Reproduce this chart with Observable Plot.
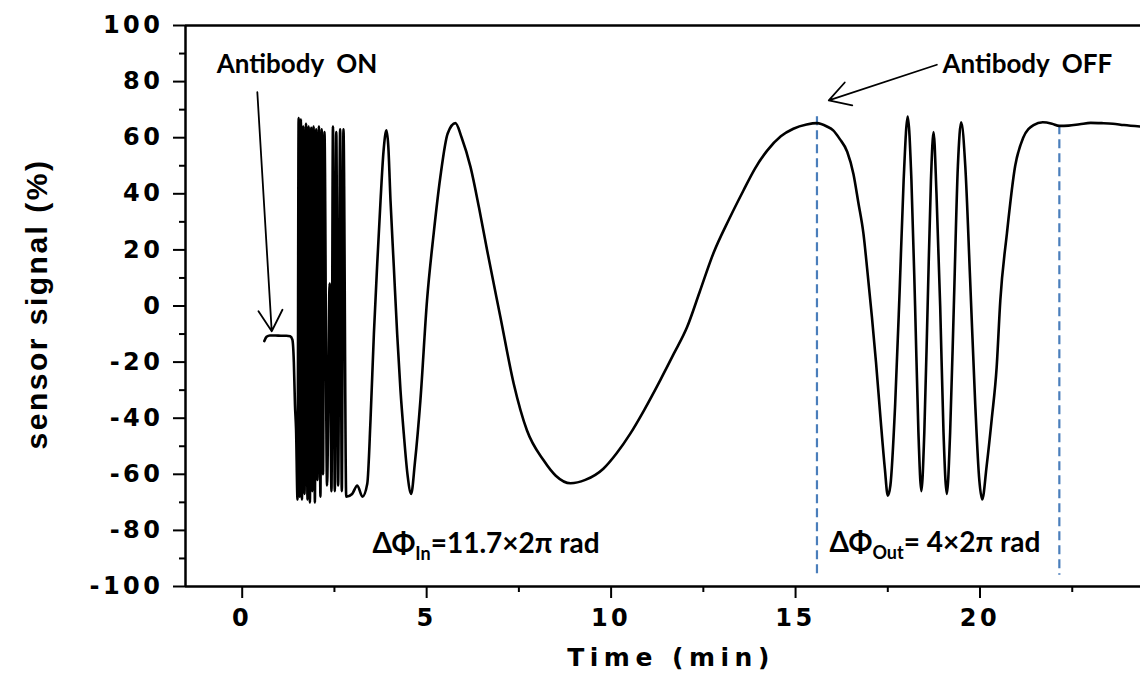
<!DOCTYPE html>
<html><head><meta charset="utf-8">
<script src="https://cdn.jsdelivr.net/npm/d3@7"></script>
<script src="https://cdn.jsdelivr.net/npm/@observablehq/plot@0.6"></script>
<style>
body{margin:0;background:#fff;}
svg text{white-space:pre;}
</style></head><body><div id="chart"></div>
<script>
// ---- data ----
const time = [0.60,0.66,0.75,0.90,1.05,1.20,1.30,1.36,1.40,1.43,1.46,
  1.50,1.53,1.56,1.59,1.62,1.655,1.69,1.73,1.77,1.80,1.835,1.87,1.90,1.935,1.97,2.005,2.04,2.08,2.12,2.155,2.19,2.23,2.30,2.37,2.42,2.46,2.51,2.55,2.60,2.655,2.70,2.745,2.82,
  2.98,3.12,3.26,3.39,3.48,3.57,3.66,3.75,3.83,3.91,
  3.96,4.02,4.11,4.20,4.29,4.38,4.48,4.58,
  4.68,4.83,5.01,5.19,5.37,5.57,5.78,
  5.95,6.19,6.42,6.64,7.00,7.36,7.72,8.17,8.50,8.90,
  9.30,9.79,10.15,10.52,10.90,11.33,11.70,12.06,12.40,12.77,
  13.20,13.58,13.90,14.23,14.60,14.94,15.30,15.58,
  15.85,16.02,16.20,16.40,16.57,16.70,16.84,16.95,17.07,17.18,17.30,17.42,17.50,
  17.57,17.70,17.82,17.93,18.04,
  18.14,18.24,18.33,18.41,
  18.49,18.58,18.67,18.74,
  18.82,18.92,19.01,19.10,
  19.19,19.29,19.40,19.49,
  19.60,19.73,19.87,19.98,20.06,
  20.18,20.32,20.45,20.55,20.73,20.95,21.17,21.45,21.70,21.95,22.15,
  22.40,22.70,23.00,23.30,23.60,23.90,24.35];
const signal = [-12.5,-11.0,-10.5,-10.5,-10.6,-10.6,-10.8,-12,-20,-35,-44,
  -69,67,-68,66.5,-69,64,-67,65,-69,64,-70,63.5,-66,64,-70,63,-62,64,-68,63,-60,62,-64,8,-66,64,-66,62,-64,63,-66,63,-68,
  -67,-64,-68,-63.4,-40,-9.8,15,37.6,55,62.6,
  57,37.6,14,-9.8,-30,-45.5,-60,-67,
  -56,-33.7,2,25.8,45.9,61.5,65.2,
  60,49.5,35,19.8,-4,-27.7,-44.4,-55,-60.5,-63.2,
  -62,-58,-52.5,-45.5,-37,-26.5,-17,-7.5,5,18.7,
  31,41,49,55.4,60.5,63.2,64.7,65.2,
  64,62.6,59.5,55,47,37,25.8,12,-4,-20,-39.6,-58,-67.6,
  -64,-35,5,45,67.5,
  45,0,-45,-66,
  -45,0,45,62,
  40,0,-45,-67,
  -45,0,50,65.5,
  50,10,-35,-62,-69,
  -57,-40,-22,2,26,49.7,60,64.5,65.5,65,64.2,
  64.3,64.8,65.3,65.2,65,64.5,64];

const xDomain = [-1.537, 24.35];
const yDomain = [-100, 100];
const xTicks = [0, 5, 10, 15, 20];
const xMinorTicks = [2.5, 7.5, 12.5, 17.5, 22.5];
const yTicks = [-100, -80, -60, -40, -20, 0, 20, 40, 60, 80, 100];
const yMinorTicks = [-90, -70, -50, -30, -10, 10, 30, 50, 70, 90];

// boundaries of the phase windows (dashed lines)
const windowT = [15.58, 22.15];
const windowTop = [67.5, 64.3];
const windowBottom = [-96, -96];

// annotations
const labelText = ["Antibody  ON", "Antibody  OFF"];
const labelT = [-0.69, 18.98];
const labelV = [86, 86];
const arrowFromT = [0.41, 18.83];
const arrowFromV = [76.2, 86];
const arrowToT = [0.80, 15.90];
const arrowToV = [-9, 73.3];
const phaseSub = ["In", "Out"];
const phaseRest = ["=11.7×2π rad", "= 4×2π rad"];
const phaseT = [3.53, 15.92];
const phaseV = [-85, -84.5];

const yTitle = "sensor signal (%)";
const xTitle = "Time (min)";

// ---- build ----
const data = time.map((t, i) => ({t, v: signal[i]}));
const windows = windowT.map((t, i) => ({t, top: windowTop[i], bottom: windowBottom[i]}));
const labels = labelText.map((s, i) => ({s, t: labelT[i], v: labelV[i]}));
const arrows = arrowFromT.map((t, i) => ({x1: t, y1: arrowFromV[i], x2: arrowToT[i], y2: arrowToV[i]}));
const phaseFull = phaseSub.map((s, i) => "ΔΦ" + s + phaseRest[i]);
const phases = phaseFull.map((s, i) => ({s, t: phaseT[i], v: phaseV[i]}));

const annoFont = "Lato, 'Open Sans', 'DejaVu Sans', sans-serif";
const tickFont = "'DejaVu Sans', sans-serif";

const plot = Plot.plot({
  width: 1140, height: 687,
  marginLeft: 185, marginRight: 0, marginTop: 25, marginBottom: 101,
  x: {domain: xDomain},
  y: {domain: yDomain},
  style: {background: "white", overflow: "visible"},
  marks: [
    Plot.ruleY([yDomain[1]], {stroke: "black", strokeWidth: 2.5}),
    Plot.ruleY([yDomain[0]], {stroke: "black", strokeWidth: 2.5}),
    Plot.ruleX([xDomain[0]], {stroke: "black", strokeWidth: 2.5}),
    Plot.axisY({ticks: yTicks, tickSize: 12, tickPadding: 10, strokeWidth: 2, label: null,
      fontSize: 24, fontWeight: "bold", fontFamily: tickFont, tickFormat: d => String(d)}),
    Plot.axisY({ticks: yMinorTicks, tickSize: 6, strokeWidth: 2, label: null, tickFormat: () => ""}),
    Plot.axisX({ticks: xTicks, tickSize: 12, tickPadding: 10, strokeWidth: 2, label: null,
      fontSize: 24, fontWeight: "bold", fontFamily: tickFont, tickFormat: d => String(d)}),
    Plot.axisX({ticks: xMinorTicks, tickSize: 6, strokeWidth: 2, label: null, tickFormat: () => ""}),
    Plot.ruleX(windows, {x: "t", y1: "top", y2: "bottom", stroke: "#4a7ebb", strokeWidth: 2.2, strokeDasharray: "9,5"}),
    Plot.line(data, {x: "t", y: "v", stroke: "black", strokeWidth: 2.6, curve: "monotone-x"}),
    Plot.arrow(arrows, {x1: "x1", y1: "y1", x2: "x2", y2: "y2", stroke: "black", strokeWidth: 1.8, headLength: 20, headAngle: 60}),
    Plot.text(labels, {x: "t", y: "v", text: "s", textAnchor: "start", fontFamily: annoFont, fontWeight: "bold", fontSize: 26, fill: "black"}),
    Plot.text(phases, {x: "t", y: "v", text: "s", textAnchor: "start", fontFamily: annoFont, fontWeight: "bold", fontSize: 28, fill: "black"}),
    Plot.text([yTitle], {text: d => d, frameAnchor: "left", textAnchor: "middle", rotate: -90, dx: -148, dy: -2, fontSize: 30, fontWeight: "bold", fontFamily: "'Liberation Sans', Arial, sans-serif", fill: "black"}),
    Plot.text([xTitle], {text: d => d, frameAnchor: "bottom", textAnchor: "middle", dx: 8, dy: 79, fontSize: 25, fontWeight: "bold", fontFamily: tickFont, fill: "black"})
  ]
});
document.getElementById("chart").appendChild(plot);

// ---- text post-styling ----
const root = d3.select(plot);
root.selectAll("g[aria-label='y-axis tick label'] text").style("letter-spacing", "3.5px");
root.selectAll("g[aria-label='x-axis tick label'] text").style("letter-spacing", "3.5px");
root.selectAll("text").each(function() {
  const s = this.textContent;
  if (s === yTitle) d3.select(this).style("letter-spacing", "2.5px");
  if (s === xTitle) d3.select(this).style("letter-spacing", "5.5px");
  const i = phaseFull.indexOf(s);
  if (i >= 0) {
    const el = d3.select(this);
    el.text(null);
    el.append("tspan").text("ΔΦ");
    el.append("tspan").attr("font-size", 18).attr("dy", 7).text(phaseSub[i]);
    el.append("tspan").attr("dy", -7).text(phaseRest[i]);
  }
});
</script></body></html>
